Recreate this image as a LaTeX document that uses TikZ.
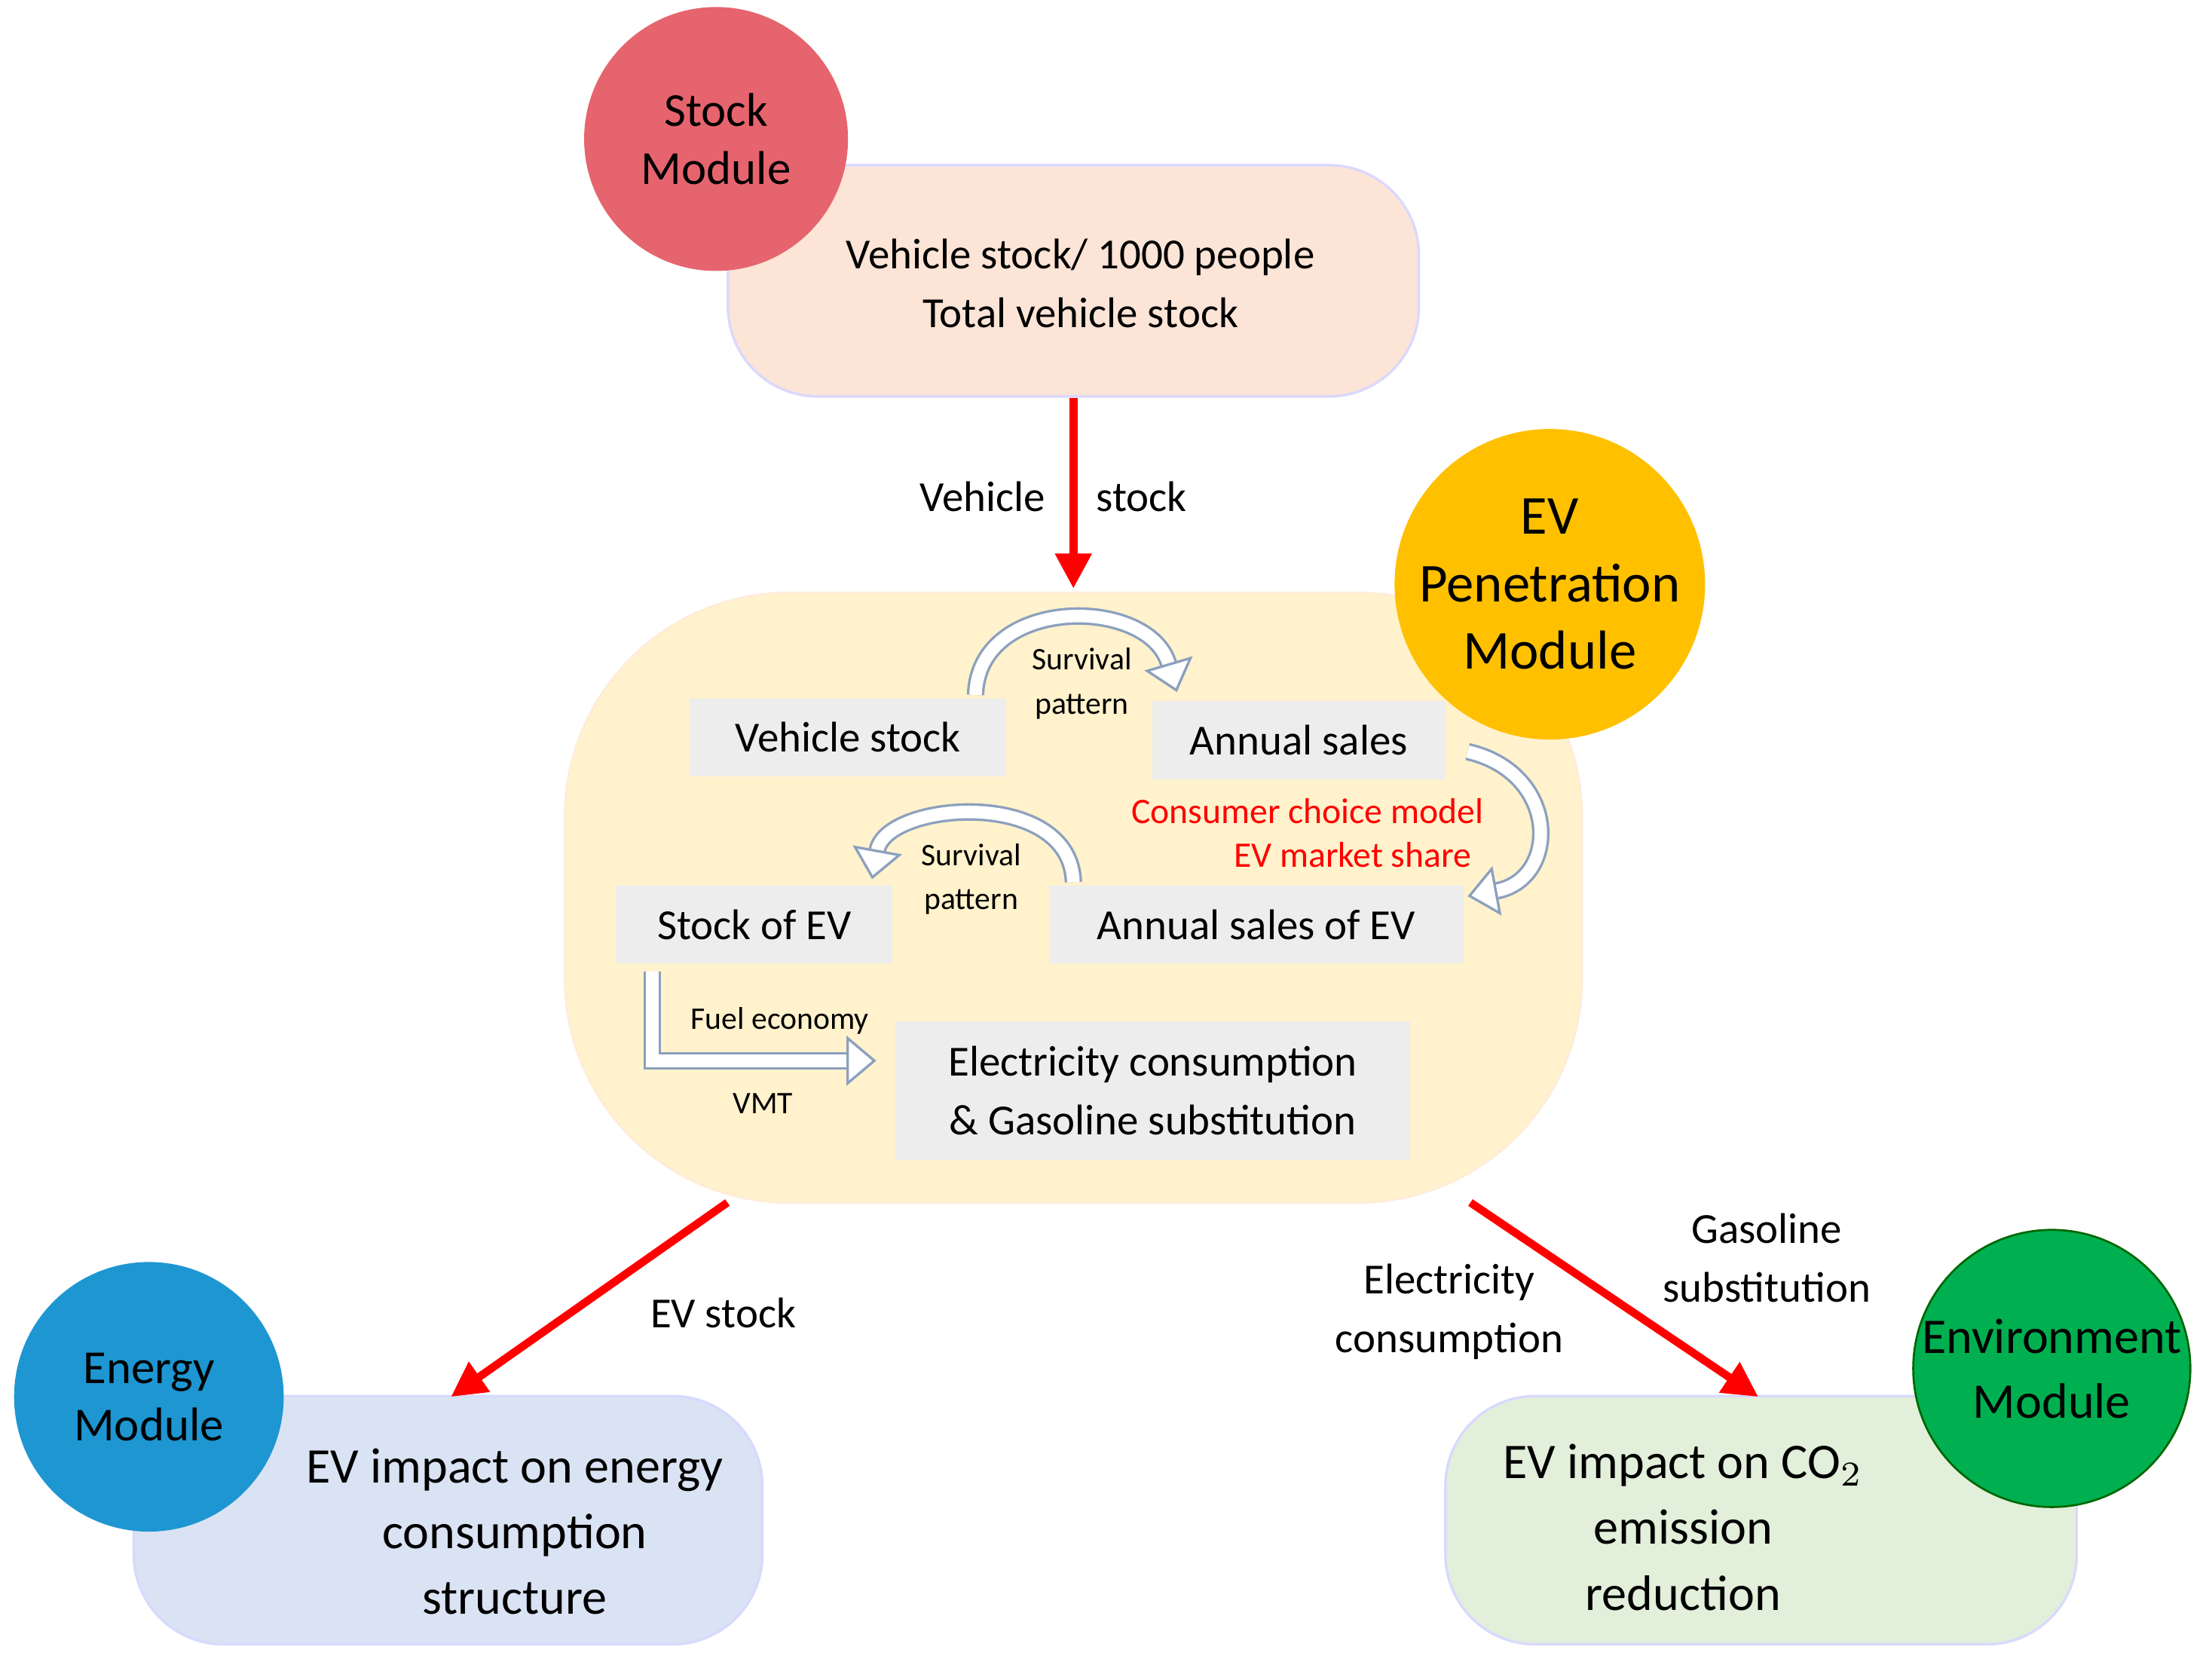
\documentclass[tikz,border=0pt]{standalone}
\usepackage{fontspec}
\setmainfont{Carlito}
\usetikzlibrary{arrows.meta}
\definecolor{peach}{RGB}{252,228,214}
\definecolor{cream}{RGB}{255,242,204}
\definecolor{gbox}{RGB}{237,237,237}
\definecolor{lblue}{RGB}{218,227,243}
\definecolor{lgreen}{RGB}{226,239,218}
\definecolor{cred}{RGB}{230,100,110}
\definecolor{cgold}{RGB}{255,192,0}
\definecolor{cblue}{RGB}{30,150,210}
\definecolor{cgreen}{RGB}{0,176,80}
\definecolor{hollow}{RGB}{140,160,190}
\begin{document}
\begin{tikzpicture}[x=0.01cm,y=-0.01cm,
  box/.style={draw=white!85!blue,fill=#1,rounded corners=18pt,line width=0.5pt},
  gb/.style={fill=gbox,inner sep=0pt,font=\fontsize{8.6}{10.5}\selectfont},
  circ/.style={circle,fill=#1,minimum size=1.84cm,inner sep=0pt,align=center,font=\fontsize{9.5}{11.5}\selectfont},
  txt/.style={align=center,font=\fontsize{8.6}{11.8}\selectfont},
  big/.style={align=center,font=\fontsize{10}{13.2}\selectfont},
  sm/.style={align=center,font=\fontsize{6.3}{8.8}\selectfont},
  redarr/.style={draw=red,line width=1.6pt,-{Triangle[length=7pt,width=7pt]}},
  hol/.style={draw=hollow,double=white,double distance=2.5pt,line width=0.5pt,-{Triangle[open,length=6pt,width=10pt,fill=white]}}]
\useasboundingbox (0,0) rectangle (1560,1178);
% top
\node[box=peach,minimum width=4.87cm,minimum height=1.63cm] (sbox) at (757,198) {};
\node[txt] (stxt) at (762,200) {Vehicle stock/ 1000 people\\Total vehicle stock};
\node[circ=cred,minimum size=1.86cm] (sc) at (505,98) {Stock\\Module};
% middle
\node[draw=white!85!orange,fill=cream,rounded corners=45pt,minimum width=7.17cm,minimum height=4.3cm] (mbox) at (757,633) {};
\node[circ=cgold,minimum size=1.86cm,font=\fontsize{11}{13.5}\selectfont] (ec) at (1093,412) {EV\\Penetration\\Module};
\coordinate (mtop) at (757,415);
\draw[redarr] (sbox.south) -- (mtop);
\node[txt] (l1) at (693,350) {Vehicle};
\node[txt] (l2) at (805,350) {stock};
\node[gb,minimum width=2.23cm,minimum height=0.55cm] (vs) at (598,520) {Vehicle stock};
\node[gb,minimum width=2.07cm,minimum height=0.55cm] (as) at (916,522) {Annual sales};
\node[gb,minimum width=1.95cm,minimum height=0.55cm] (se) at (532,652) {Stock of EV};
\node[gb,minimum width=2.92cm,minimum height=0.55cm] (ase) at (886,652) {Annual sales of EV};
\node[gb,minimum width=3.63cm,minimum height=0.98cm,align=center,font=\fontsize{8.6}{11.8}\selectfont] (elc) at (813,769) {Electricity consumption\\\& Gasoline substitution};
% hollow arrows
\coordinate (a1) at (688,490); \coordinate (a2) at (830,488);
\draw[hol] (a1) .. controls (690,420) and (810,420) .. (a2);
\coordinate (b1) at (1035,530); \coordinate (b2) at (1035,632);
\draw[hol] (b1) .. controls (1100,545) and (1100,620) .. (b2);
\coordinate (c1) at (757,622); \coordinate (c2) at (615,620);
\draw[hol] (c1) .. controls (755,555) and (625,565) .. (c2);
\coordinate (d1) at (460,685); \coordinate (d2) at (460,748); \coordinate (d3) at (618,748);
\draw[hol] (d1) -- (d2) -- (d3);
\node[sm] (sp1) at (763,482) {Survival\\pattern};
\node[sm] (sp2) at (685,620) {Survival\\pattern};
\node[sm,text=red,font=\fontsize{7.2}{9}\selectfont] (cc) at (922,572) {Consumer choice model};
\node[sm,text=red,font=\fontsize{7.2}{9}\selectfont,anchor=east] (ms) at (1050,603) {EV market share};
\node[sm] (fe) at (550,720) {Fuel economy};
\node[sm] (vmt) at (538,778) {VMT};
% bottom
\node[box=lblue,minimum width=4.43cm,minimum height=1.75cm] (enb) at (316,1072) {};
\node[big] (ent) at (363,1080) {EV impact on energy\\consumption\\structure};
\node[circ=cblue,minimum size=1.9cm] (enc) at (105,985) {Energy\\Module};
\node[box=lgreen,minimum width=4.45cm,minimum height=1.75cm] (evb) at (1242,1072) {};
\node[big] (evt) at (1187,1077) {EV impact on CO$_2$\\emission\\reduction};
\node[circ=cgreen,draw=green!40!black,minimum size=1.8cm,font=\fontsize{10}{13}\selectfont] (evc) at (1447,965) {Environment\\Module};
\coordinate (m1) at (513,848); \coordinate (e1) at (318,985);
\coordinate (m2) at (1037,848); \coordinate (e2) at (1240,985);
\draw[redarr] (m1) -- (e1);
\draw[redarr] (m2) -- (e2);
\node[txt] (l3) at (510,926) {EV stock};
\node[txt] (l4) at (1022,925) {Electricity\\consumption};
\node[txt] (l5) at (1246,887) {Gasoline\\substitution};
\end{tikzpicture}
\end{document}
